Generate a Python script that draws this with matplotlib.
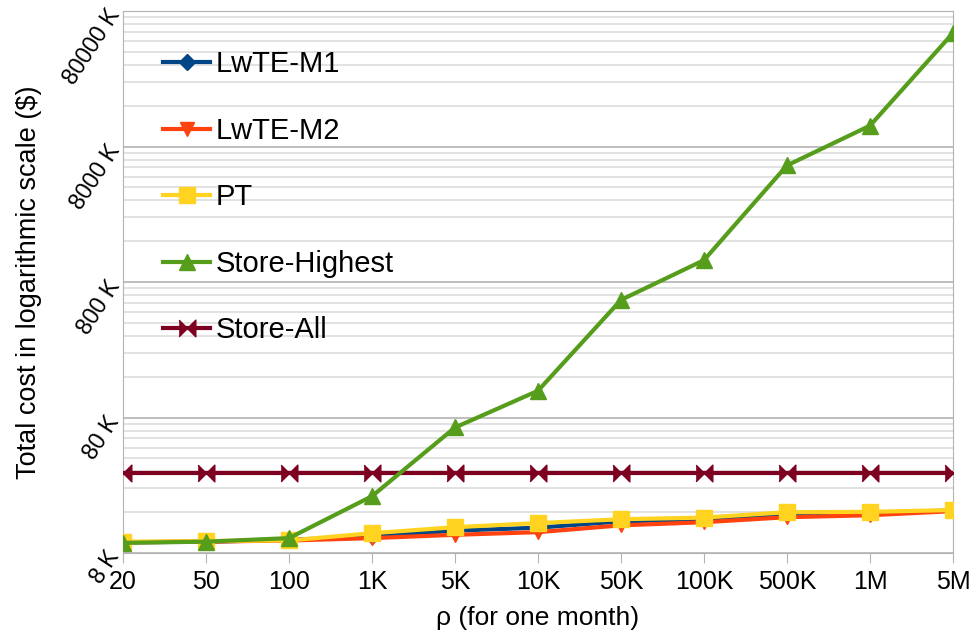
import numpy as np
import matplotlib.pyplot as plt
from matplotlib.ticker import FixedLocator, FuncFormatter, NullFormatter

plt.rcParams['font.family'] = ['Liberation Sans', 'DejaVu Sans']

# categories on the x axis
rho = ['20', '50', '100', '1K', '5K', '10K', '50K', '100K', '500K', '1M', '5M']

# total cost in $
lwte_m1 = [9.6e3, 9.7e3, 10.0e3, 10.6e3, 11.7e3, 12.3e3, 13.7e3, 14.2e3, 15.4e3, 15.8e3, 16.5e3]
lwte_m2 = [9.6e3, 9.7e3, 9.9e3, 10.3e3, 10.9e3, 11.4e3, 12.8e3, 13.5e3, 14.7e3, 15.2e3, 16.3e3]
pt = [9.7e3, 9.8e3, 9.9e3, 11.2e3, 12.4e3, 13.3e3, 14.2e3, 14.6e3, 16.0e3, 16.1e3, 16.6e3]
store_highest = [9.5e3, 9.7e3, 10.3e3, 21e3, 67.5e3, 126e3, 590e3, 1.16e6, 5.8e6, 11.4e6, 55e6]
store_all = [31e3] * 11

y_ticks = [8e3, 8e4, 8e5, 8e6, 8e7]
y_labels = ['8 K', '80 K', '800 K', '8000 K', '80000 K']

bowtie = [(-1, 1), (1, -1), (1, 1), (-1, -1)]

fig = plt.figure(figsize=(9.73, 6.32), dpi=100)
ax = fig.add_axes([123 / 973, 1 - 553 / 632, (953 - 123) / 973, (553 - 11) / 632])

x = np.arange(len(rho))
lw = 3
ax.plot(x, lwte_m1, color='#004586', lw=lw, marker='D', ms=8, label='LwTE-M1', zorder=3)
ax.plot(x, lwte_m2, color='#ff420e', lw=lw, marker='v', ms=10, label='LwTE-M2', zorder=4)
ax.plot(x, pt, color='#ffd320', lw=lw, marker='s', ms=11, label='PT', zorder=5)
ax.plot(x, store_highest, color='#579d1c', lw=lw, marker='^', ms=12, label='Store-Highest', zorder=6)
ax.plot(x, store_all, color='#7e0021', lw=lw, marker=bowtie, ms=12, label='Store-All', zorder=5.5)

ax.set_yscale('log')
ax.set_ylim(8e3, 8e7)
ax.set_xlim(0, len(rho) - 1)

ax.yaxis.set_major_locator(FixedLocator(y_ticks))
ax.yaxis.set_major_formatter(FuncFormatter(lambda v, p: y_labels[y_ticks.index(v)] if v in y_ticks else ''))
minor = [8e3 * k * 10 ** n for n in range(4) for k in range(2, 10)]
ax.yaxis.set_minor_locator(FixedLocator(minor))
ax.yaxis.set_minor_formatter(NullFormatter())

ax.set_xticks(x)
ax.set_xticklabels(rho, fontsize=18)
ax.tick_params(axis='x', length=7, color='#b3b3b3', pad=5)
ax.tick_params(axis='y', which='both', length=0, pad=6)
for lab in ax.get_yticklabels():
    lab.set_rotation(57)
    lab.set_rotation_mode('anchor')
    lab.set_ha('right')
    lab.set_va('center')
    lab.set_fontsize(16.5)

ax.grid(True, which='major', axis='y', color='#b3b3b3', lw=1.2)
ax.grid(True, which='minor', axis='y', color='#dddddd', lw=1.2)
ax.set_axisbelow(True)
for s in ax.spines.values():
    s.set_color('#b3b3b3')

ax.set_xlabel('ρ (for one month)', fontsize=19, labelpad=9)
ax.set_ylabel('Total cost in logarithmic scale ($)', fontsize=19.5, labelpad=12)

ax.legend(loc='upper left', bbox_to_anchor=(0.017, 0.976), frameon=False, fontsize=21,
          labelspacing=1.32, handlelength=1.6, handletextpad=0.2, markerscale=1.0)

fig.savefig('out.png', dpi=100)
